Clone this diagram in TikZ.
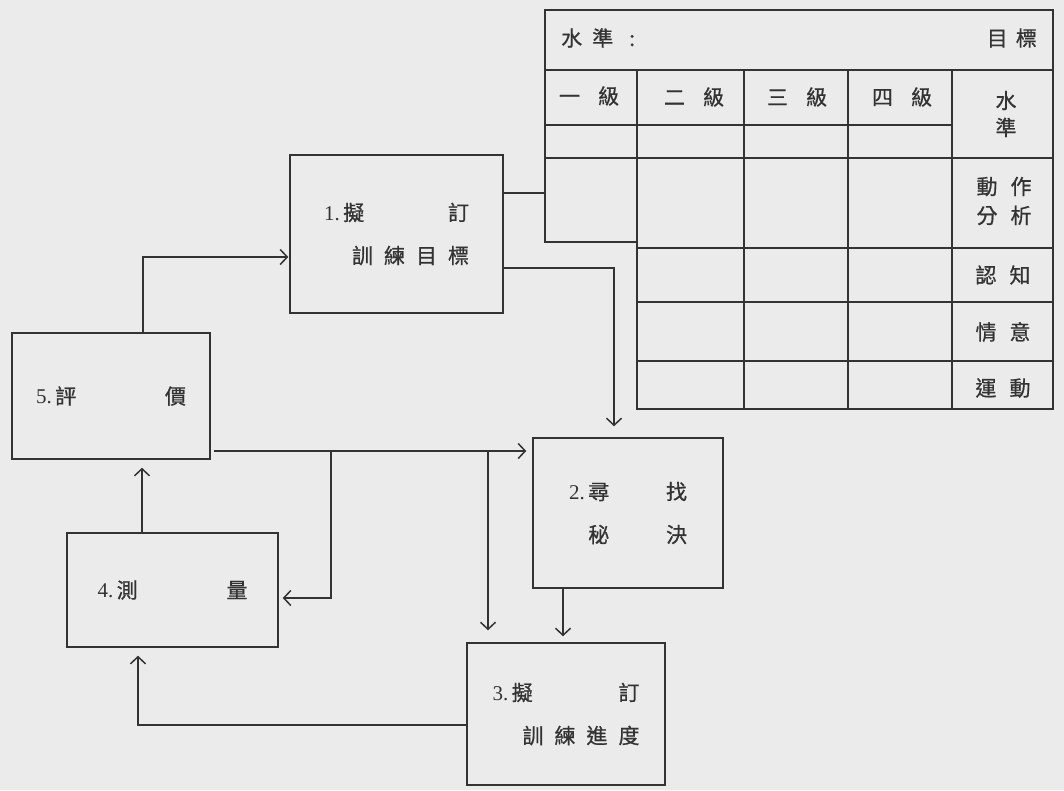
\documentclass[tikz,border=0pt]{standalone}
\usepackage{fontspec}
\setmainfont{Liberation Serif}
\newfontfamily\cjk[FakeBold=0.8]{Noto Sans CJK TC}
\usetikzlibrary{arrows.meta}
\begin{document}
\begin{tikzpicture}[x=1pt,y=-1pt,
  ln/.style={line width=1.5pt, draw=black!80},
  box/.style={ln, rectangle, inner sep=0pt, align=center, text=black!80,
    font=\fontsize{21}{43}\selectfont},
  arr/.style={ln, -{Straight Barb[length=7pt,width=15pt]}},
  lbl/.style={font=\cjk\fontsize{21}{28}\selectfont, inner sep=0pt, text=black!80, align=center}
]
\fill[black!8] (0,0) rectangle (1064,790);
\useasboundingbox (0,0) rectangle (1064,790);

% ---------- boxes ----------
\node[box, minimum width=213pt, minimum height=158pt] (b1) at (396.5,234)
  {\makebox[145pt]{1.\,{\cjk 擬}\hfill{\cjk 訂}}\\
   \makebox[145pt]{\hfill\cjk 訓\hspace{11pt}練\hspace{11pt}目\hspace{11pt}標}};
\node[box, minimum width=190pt, minimum height=150pt] (b2) at (628,513)
  {\makebox[118pt]{2.\,{\cjk 尋}\hfill{\cjk 找}}\\
   \makebox[118pt]{\hphantom{2.\,}{\cjk 秘}\hfill{\cjk 決}}};
\node[box, minimum width=198pt, minimum height=142pt] (b3) at (566,714)
  {\makebox[147pt]{3.\,{\cjk 擬}\hfill{\cjk 訂}}\\
   \makebox[147pt]{\hfill\cjk 訓\hspace{11pt}練\hspace{11pt}進\hspace{11pt}度}};
\node[box, minimum width=211pt, minimum height=114pt] (b4) at (172.5,590)
  {\makebox[150pt]{4.\,{\cjk 測}\hfill{\cjk 量}}};
\node[box, minimum width=198pt, minimum height=126pt] (b5) at (111,396)
  {\makebox[150pt]{5.\,{\cjk 評}\hfill{\cjk 價}}};

% ---------- table ----------
\draw[ln] (545,242) -- (545,10) -- (1053,10) -- (1053,409) -- (637,409) -- (637,242) -- cycle;
\draw[ln] (545,70) -- (1053,70);
\draw[ln] (545,125) -- (952,125);
\draw[ln] (545,158) -- (1053,158);
\draw[ln] (637,70) -- (637,242);
\draw[ln] (744,70) -- (744,409);
\draw[ln] (848,70) -- (848,409);
\draw[ln] (952,70) -- (952,409);
\draw[ln] (637,248) -- (1053,248);
\draw[ln] (637,302) -- (1053,302);
\draw[ln] (637,361) -- (1053,361);

\node[lbl, anchor=west] (th1) at (561,38) {水\hspace{10pt}準\hspace{16pt}:};
\node[lbl, anchor=east] (th2) at (1037,38) {目\hspace{8pt}標};
\node[lbl] (g1) at (589,96) {一\hspace{18pt}級};
\node[lbl] (g2) at (694,97) {二\hspace{18pt}級};
\node[lbl] (g3) at (797,97) {三\hspace{18pt}級};
\node[lbl] (g4) at (902,97) {四\hspace{18pt}級};
\node[lbl, font=\cjk\fontsize{21}{27}\selectfont] (r0) at (1006,114) {水\\準};
\node[lbl, font=\cjk\fontsize{21}{29}\selectfont] (r1) at (1004,201) {動\hspace{13pt}作\\分\hspace{13pt}析};
\node[lbl] (r2) at (1003,275) {認\hspace{13pt}知};
\node[lbl] (r3) at (1003,332) {情\hspace{13pt}意};
\node[lbl] (r4) at (1003,388) {運\hspace{13pt}動};

% ---------- connectors ----------
\coordinate (tL) at (545,193);
\draw[ln] (b1.east |- tL) -- (tL);

\coordinate (c1) at (614,268);
\draw[arr, shorten >=11pt] (b1.east |- c1) -- (c1) -- (c1 |- b2.north);

\coordinate (c2) at (143,257);
\draw[arr, shorten >=1pt] (c2 |- b5.north) -- (c2) -- (c2 -| b1.west);

\coordinate (c3) at (213,451);
\draw[arr, shorten <=3pt, shorten >=6pt] (b5.east |- c3) -- (b2.west |- c3);

\coordinate (c4) at (331,598);
\draw[arr, shorten >=4pt] (c4 |- c3) -- (c4) -- (c4 -| b4.east);

\coordinate (c5) at (488,451);
\draw[arr, shorten >=12pt] (c5) -- (c5 |- b3.north);

\coordinate (c6) at (563,600);
\draw[arr, shorten >=6pt] (c6 |- b2.south) -- (c6 |- b3.north);

\coordinate (c7) at (138,725);
\draw[arr, shorten >=8pt] (b3.west |- c7) -- (c7) -- (c7 |- b4.south);

\coordinate (c8) at (142,500);
\draw[arr, shorten >=8pt] (c8 |- b4.north) -- (c8 |- b5.south);
\end{tikzpicture}
\end{document}
